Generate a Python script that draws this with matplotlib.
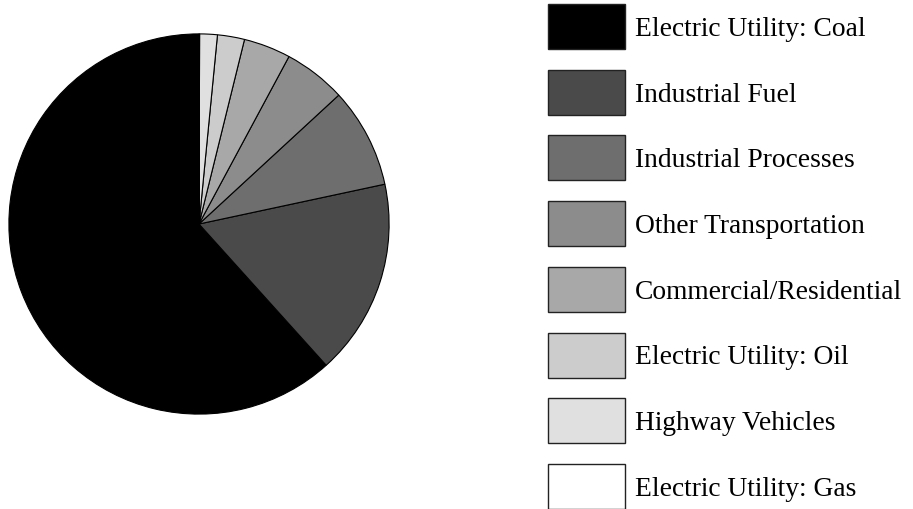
import matplotlib
matplotlib.use("Agg")
import matplotlib.pyplot as plt
from matplotlib.patches import Rectangle

# share of emissions by source (percent)
sources = ["Electric Utility: Coal", "Industrial Fuel", "Industrial Processes",
           "Other Transportation", "Commercial/Residential", "Electric Utility: Oil",
           "Highway Vehicles", "Electric Utility: Gas"]
shares = [61.7, 16.7, 8.5, 5.3, 4.0, 2.3, 1.5, 0.05]
greys = ["#000000", "#4a4a4a", "#6e6e6e", "#8c8c8c", "#a8a8a8", "#cccccc",
         "#e0e0e0", "#ffffff"]

W, H = 913, 510
fig = plt.figure(figsize=(W / 100, H / 100), dpi=100)

# pie, centre (199, 225) px, radius 192 px
cx, cy, r = 199, 225, 192
ax = fig.add_axes([(cx - r) / W, (H - cy - r) / H, 2 * r / W, 2 * r / H])
ax.pie(shares, colors=greys, startangle=90, counterclock=True, radius=1,
       wedgeprops=dict(edgecolor="black", linewidth=0.8))
ax.set_xlim(-1.01, 1.01)
ax.set_ylim(-1.01, 1.01)
ax.set_aspect("equal")
ax.axis("off")

# legend drawn by hand in pixel coords
lg = fig.add_axes([0, 0, 1, 1])
lg.set_xlim(0, W)
lg.set_ylim(H, 0)
lg.axis("off")
box_x, box_w, box_h = 548, 77, 45
top, step = 5, 65.7
for i, (name, col) in enumerate(zip(sources, greys)):
    y = top + i * step
    lg.add_patch(Rectangle((box_x, y), box_w, box_h, facecolor=col,
                           edgecolor="#222222", linewidth=1.0))
    lg.text(635, y + box_h / 2 + 2, name, va="center", ha="left",
            fontsize=19.8, family="Liberation Serif", color="black")

fig.savefig("out.png", dpi=100)
